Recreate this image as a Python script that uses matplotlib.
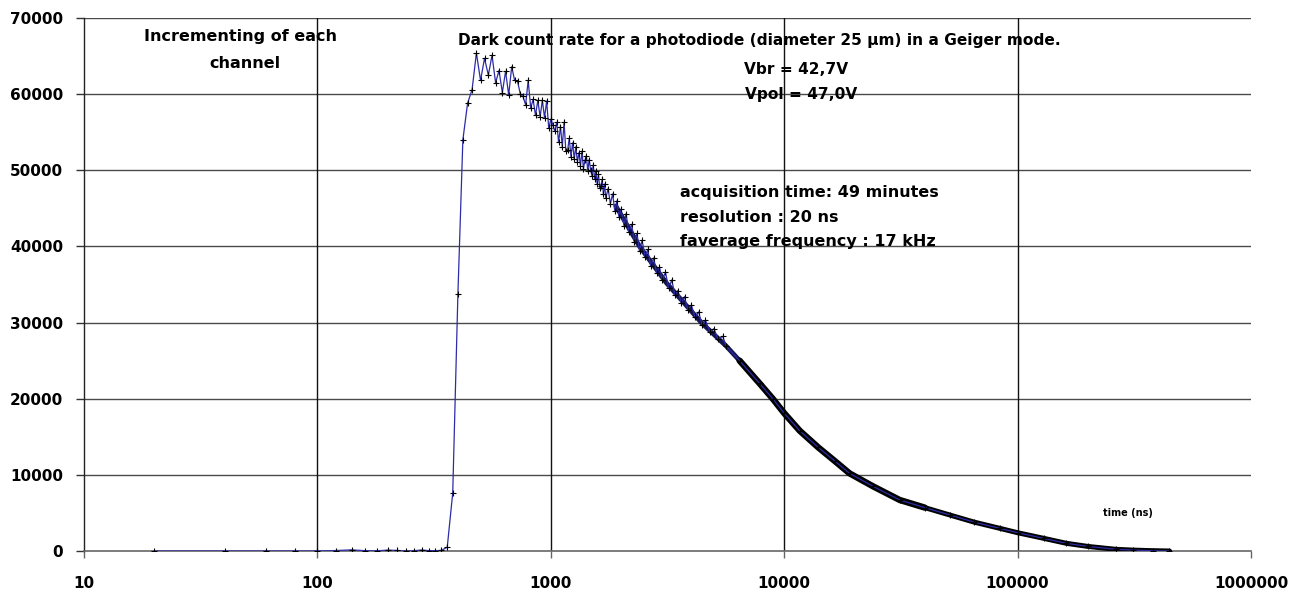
import matplotlib
matplotlib.use("Agg")
import matplotlib.pyplot as plt
from matplotlib.ticker import NullLocator, FixedLocator, FixedFormatter

# ---------------- data ----------------
# time in ns, counts per channel (20 ns channels)
t_rise = [20, 40, 60, 80, 100, 120, 140, 160, 180, 200, 220, 240, 260, 280,
          300, 320, 340, 360, 380, 400, 420, 440]
c_rise = [0, 0, 0, 0, 0, 60, 150, 40, 20, 120, 70, 0, 40, 130,
          50, 30, 80, 500, 7600, 33800, 54000, 58800]

t_peak = [460, 480, 500, 520, 540, 560, 580, 600, 620, 640, 660, 680, 700,
          720, 740, 760, 780, 800, 820, 840, 860, 880, 900, 920, 940, 960,
          980, 1000]
c_peak = [60600, 65400, 61800, 64700, 62500, 65100, 61500, 63100, 60200,
          63000, 59900, 63600, 61800, 61700, 60050, 59700, 58600, 61800,
          58200, 59300, 57200, 59200, 57000, 59200, 56900, 59100, 55500,
          56700]

t_osc = [1020, 1040, 1060, 1080, 1100, 1120, 1140, 1160, 1180, 1200, 1220,
         1240, 1260, 1280, 1300, 1320, 1340, 1360, 1380, 1400, 1420, 1440,
         1460, 1480, 1500, 1520, 1540, 1560, 1580, 1600, 1620, 1640, 1660,
         1680, 1700, 1720, 1760, 1800, 1840, 1880, 1920, 1960, 2000, 2060,
         2100, 2160, 2220, 2280, 2340, 2400, 2460, 2540, 2600, 2680, 2760,
         2840, 2920, 3000, 3100, 3200, 3300, 3400, 3500, 3620, 3740, 3860,
         4000, 4150, 4300, 4450, 4600, 4800, 5000, 5200, 5450]
c_osc = [56000, 55100, 56300, 53650, 55750, 53100, 56300, 52500, 52600,
         54200, 51800, 53600, 51500, 53100, 51100, 52300, 50600, 52500,
         50200, 51300, 51900, 49900, 51400, 50100, 49300, 50700, 48800,
         49900, 48200, 49500, 47700, 48000, 48800, 46900, 48200, 46300,
         47600, 45600, 46900, 44700, 46000, 43900, 44900, 42700, 44300,
         41900, 42900, 40600, 41700, 39400, 40800, 38600, 39600, 37400,
         38500, 36500, 37300, 35600, 36600, 34500, 35600, 33600, 34200,
         32600, 33400, 31700, 32300, 30700, 31400, 29700, 30300, 28800,
         29200, 27800, 28200]

t_tail = [5650, 6440, 7850, 8930, 10000, 11650, 14000, 16500, 19050, 24000,
          31250, 40000, 51200, 65000, 83800, 100000, 130000, 161800, 200000,
          264000, 311000, 380000, 447500]
c_tail = [26900, 25000, 22000, 20000, 18100, 15800, 13600, 11800, 10200,
          8500, 6700, 5700, 4730, 3800, 2980, 2400, 1650, 1010, 600, 220,
          120, 40, 0]

# dense (black) part of the record drawn as a thick band
t_band = [1900, 2400, 3130, 4416, 5650, 6440, 7850, 8930, 10000, 11650,
          14000, 16500, 19050, 24000, 31250, 40000, 51200, 65000, 83800,
          100000, 130000, 161800, 200000, 264000, 311000, 380000, 447500]
c_band = [45300, 40000, 35200, 30000, 26900, 25000, 22000, 20000, 18100,
          15800, 13600, 11800, 10200, 8500, 6700, 5700, 4730, 3800, 2980,
          2400, 1650, 1010, 600, 220, 120, 40, 0]

x_ticks = [10, 100, 1000, 10000, 100000, 1000000]
x_labels = ["10", "100", "1000", "10000", "100000", "1000000"]
y_ticks = [0, 10000, 20000, 30000, 40000, 50000, 60000, 70000]
y_labels = ["0", "10000", "20000", "30000", "40000", "50000", "60000", "70000"]

# ---------------- figure ----------------
W, H = 1309, 593
fig = plt.figure(figsize=(W / 100, H / 100), dpi=100)
L, R, T, B = 84, 1251, 18, 551
ax = fig.add_axes([L / W, 1 - B / H, (R - L) / W, (B - T) / H])
ax.set_xscale("log")
ax.set_xlim(10, 1e6)
ax.set_ylim(0, 70000)

t_all = t_rise + t_peak + t_osc + t_tail
c_all = c_rise + c_peak + c_osc + c_tail

ax.plot(t_band[:7], c_band[:7], color="#14144e", lw=3.4, zorder=3,
        solid_joinstyle="round", solid_capstyle="round")
ax.plot(t_band[5:16], c_band[5:16], color="black", lw=4.6, zorder=4,
        solid_joinstyle="round", solid_capstyle="round")
ax.plot(t_band[15:], c_band[15:], color="black", lw=3.6, zorder=4,
        solid_joinstyle="round", solid_capstyle="round")
ax.plot(t_all, c_all, color="#2c2ca6", lw=0.9, marker="+", ms=4.5,
        mec="black", mew=0.8, zorder=5)

# grid
for v in y_ticks[1:]:
    ax.axhline(v, color="#4a4a4a", lw=1.0, zorder=1)
for v in x_ticks[1:-1]:
    ax.axvline(v, color="#111111", lw=1.0, zorder=1)

for s in ("top", "right"):
    ax.spines[s].set_visible(False)
ax.spines["left"].set_color("#222222")
ax.spines["bottom"].set_color("#666666")
ax.spines["left"].set_linewidth(1.0)
ax.spines["bottom"].set_linewidth(1.2)

ax.xaxis.set_major_locator(FixedLocator(x_ticks))
ax.xaxis.set_major_formatter(FixedFormatter(x_labels))
ax.xaxis.set_minor_locator(NullLocator())
ax.yaxis.set_major_locator(FixedLocator(y_ticks))
ax.yaxis.set_major_formatter(FixedFormatter(y_labels))
ax.tick_params(axis="x", direction="out", length=5, width=1, color="#666666",
               pad=13)
ax.tick_params(axis="y", direction="out", length=6, width=1, color="#333333",
               pad=9)
for lab in ax.get_xticklabels() + ax.get_yticklabels():
    lab.set_fontfamily("DejaVu Sans")
    lab.set_fontweight("bold")
    lab.set_fontsize(11)

def ptext(x, y, s, size=11.5, ha="center"):
    fig.text(x / W, 1 - y / H, s, ha=ha, va="center", fontsize=size,
             fontweight="bold", family="DejaVu Sans", color="black")

ptext(240, 37, "Incrementing of each")
ptext(245, 63, "channel")
ptext(759, 40, "Dark count rate for a photodiode (diameter 25 \u00b5m) in a Geiger mode.",
      size=11.1)
ptext(796, 70, "Vbr = 42,7V", size=11.1)
ptext(801, 95, "Vpol = 47,0V", size=11.1)
ptext(680, 192, "acquisition time: 49 minutes", ha="left")
ptext(680, 217, "resolution : 20 ns", ha="left")
ptext(680, 242, "faverage frequency : 17 kHz", ha="left")
ptext(1128, 513, "time (ns)", size=7)

fig.savefig("out.png", dpi=100)
